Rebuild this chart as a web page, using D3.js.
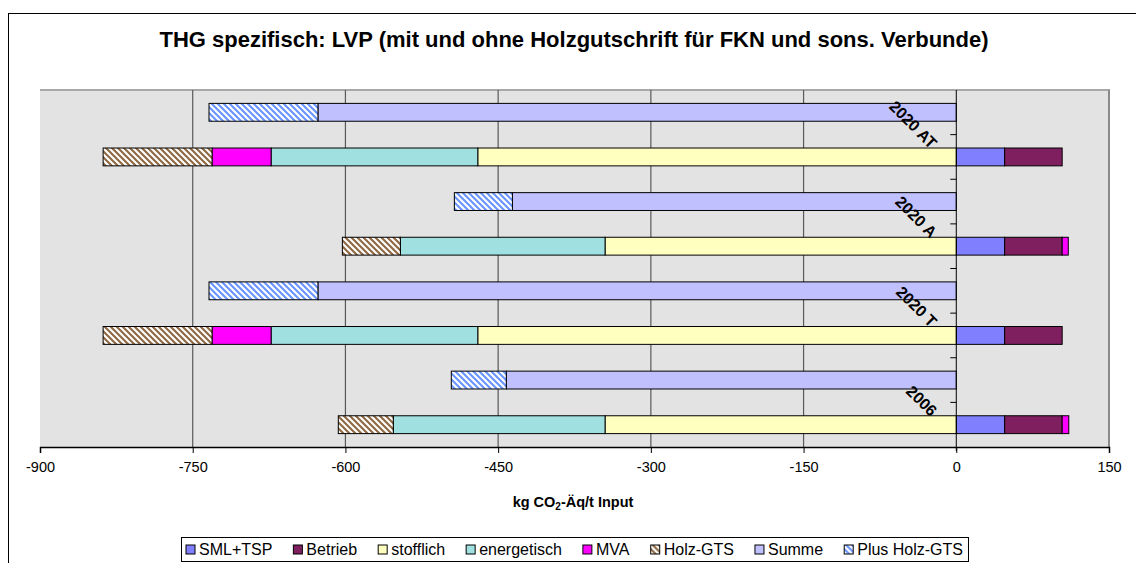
<!DOCTYPE html>
<html>
<head>
<meta charset="utf-8">
<script src="https://cdn.jsdelivr.net/npm/d3@7"></script>
<style>
  body { margin: 0; background: #fff; }
  svg { display: block; font-family: "Liberation Sans", Arial, sans-serif; }
</style>
</head>
<body>
<svg id="chart" width="1136" height="563"></svg>
<script>
// groups bottom -> top, each has a stacked bar and a "Summe" bar
const groups = ["2006", "2020 T", "2020 A", "2020 AT"];
const smlTsp = [47.5, 47.5, 47.5, 47.5];
const betrieb = [56.5, 56.5, 56.5, 56.5];
const stofflich = [-345, -470, -345, -470];
const energetisch = [-208, -203, -201, -203];
const mva = [6.5, -58, 6, -58];
const holzGts = [-54, -107, -57, -107];
const summe = [-442, -627, -436, -627];
const plusHolzGts = [-54, -107, -57, -107];
const xTicks = [-900, -750, -600, -450, -300, -150, 0, 150];

const seriesNames = ["SML+TSP", "Betrieb", "stofflich", "energetisch", "MVA", "Holz-GTS", "Summe", "Plus Holz-GTS"];
const colors = {
  "SML+TSP": "#8080ff",
  "Betrieb": "#7f1f5f",
  "stofflich": "#ffffc0",
  "energetisch": "#a0e0e0",
  "MVA": "#ff00ff",
  "Holz-GTS": "url(#hatchBrown)",
  "Summe": "#c0c0ff",
  "Plus Holz-GTS": "url(#hatchBlue)"
};

// build 8 rows: stacked row + sum row for each group
const rows = [];
groups.forEach((g, i) => {
  rows.push({ id: g + "-s", "SML+TSP": smlTsp[i], "Betrieb": betrieb[i], "stofflich": stofflich[i],
    "energetisch": energetisch[i], "MVA": mva[i], "Holz-GTS": holzGts[i], "Summe": 0, "Plus Holz-GTS": 0 });
  rows.push({ id: g + "-t", "SML+TSP": 0, "Betrieb": 0, "stofflich": 0, "energetisch": 0, "MVA": 0,
    "Holz-GTS": 0, "Summe": summe[i], "Plus Holz-GTS": plusHolzGts[i] });
});

const svg = d3.select("#chart");
const margin = { left: 40, right: 1109, top: 90, bottom: 447 };

// outer chart border
svg.append("rect").attr("x", 8.5).attr("y", 13.5).attr("width", 1200).attr("height", 600)
  .attr("fill", "none").attr("stroke", "#000").attr("stroke-width", 1);

const defs = svg.append("defs");
function hatch(id, color) {
  const p = defs.append("pattern").attr("id", id).attr("patternUnits", "userSpaceOnUse")
    .attr("width", 6).attr("height", 6);
  p.append("rect").attr("width", 6).attr("height", 6).attr("fill", "#fff");
  p.append("path").attr("d", "M-1,-1 L7,7 M-1,5 L1,7 M5,-1 L7,1")
    .attr("stroke", color).attr("stroke-width", 2.2);
}
hatch("hatchBrown", "#8f6a45");
hatch("hatchBlue", "#6b95ff");

const x = d3.scaleLinear().domain([-900, 150]).range([margin.left, margin.right]);
const y = d3.scaleBand().domain(rows.map(d => d.id)).range([margin.bottom, margin.top]);
const barH = y.bandwidth() * 0.4;

// plot area
svg.append("rect").attr("x", margin.left).attr("y", margin.top)
  .attr("width", margin.right - margin.left).attr("height", margin.bottom - margin.top)
  .attr("fill", "#e3e3e3");
svg.append("line").attr("x1", margin.left).attr("x2", margin.right + 1).attr("y1", margin.top).attr("y2", margin.top)
  .attr("stroke", "#a8a8a8").attr("stroke-width", 2);
svg.append("line").attr("x1", margin.right).attr("x2", margin.right).attr("y1", margin.top).attr("y2", margin.bottom)
  .attr("stroke", "#8a8a8a").attr("stroke-width", 2);

// gridlines
svg.append("g").selectAll("line").data(xTicks.filter(t => t > -900 && t < 0)).join("line")
  .attr("x1", d => x(d)).attr("x2", d => x(d)).attr("y1", margin.top).attr("y2", margin.bottom)
  .attr("stroke", "#5a5a5a").attr("stroke-width", 1.2);

// bars
const stack = d3.stack().keys(seriesNames).offset(d3.stackOffsetDiverging);
const stacked = stack(rows);
svg.append("g").selectAll("g").data(stacked).join("g")
  .attr("fill", d => colors[d.key])
  .selectAll("rect").data(d => d.filter(p => p[1] !== p[0])).join("rect")
  .attr("x", d => x(Math.min(d[0], d[1])))
  .attr("width", d => Math.abs(x(d[1]) - x(d[0])))
  .attr("y", d => y(d.data.id) + (y.bandwidth() - barH) / 2)
  .attr("height", barH)
  .attr("stroke", "#000").attr("stroke-width", 1);

// value axis
const xAxis = svg.append("g").attr("transform", `translate(0,${margin.bottom})`)
  .call(d3.axisBottom(x).tickValues(xTicks).tickFormat(d => String(d)).tickSize(6).tickPadding(9));
xAxis.select(".domain").attr("stroke-width", 1.5);
xAxis.selectAll("text").attr("font-size", 14.5).attr("font-family", "Liberation Sans, Arial, sans-serif")
  .attr("fill", "#000");

// category axis at 0
const catTicks = d3.range(1, rows.length + 1).map(i => margin.bottom - i * y.bandwidth());
const cg = svg.append("g");
cg.append("line").attr("x1", x(0)).attr("x2", x(0)).attr("y1", margin.top).attr("y2", margin.bottom + 4)
  .attr("stroke", "#000").attr("stroke-width", 1);
cg.selectAll("line.t").data(catTicks.slice(0, -1)).join("line").attr("class", "t")
  .attr("x1", x(0) - 6).attr("x2", x(0)).attr("y1", d => d).attr("y2", d => d)
  .attr("stroke", "#000");
cg.selectAll("text").data(groups).join("text")
  .attr("transform", (d, i) => `translate(${x(0) - 26},${y(d + "-s") + 15}) rotate(45)`)
  .attr("text-anchor", "end").attr("font-size", 16).attr("font-weight", "bold")
  .text(d => d);

// titles
svg.append("text").attr("x", 574).attr("y", 47).attr("text-anchor", "middle")
  .attr("font-size", 22).attr("font-weight", "bold").text("THG spezifisch: LVP (mit und ohne Holzgutschrift für FKN und sons. Verbunde)");
const at = svg.append("text").attr("x", 573).attr("y", 507).attr("text-anchor", "middle")
  .attr("font-size", 14.5).attr("font-weight", "bold");
at.append("tspan").text("kg CO");
at.append("tspan").attr("font-size", 10).attr("dy", 3).text("2");
at.append("tspan").attr("dy", -3).text("-Äq/t Input");

// legend
const lg = svg.append("g");
const lx0 = 181, lx1 = 968, ly0 = 537, ly1 = 561;
lg.append("rect").attr("x", lx0 + 0.5).attr("y", ly0 + 0.5).attr("width", lx1 - lx0).attr("height", ly1 - ly0)
  .attr("fill", "#fff").attr("stroke", "#000");
const items = lg.selectAll("g").data(seriesNames).join("g");
items.append("rect").attr("width", 9).attr("height", 9).attr("y", -10)
  .attr("fill", d => colors[d]).attr("stroke", "#000").attr("stroke-width", 1);
items.append("text").attr("x", 13).attr("y", 0).attr("font-size", 16).text(d => d);
const widths = items.nodes().map(n => n.getBBox().width);
const total = d3.sum(widths);
const gap = (lx1 - lx0 - 10 - total) / (seriesNames.length - 1);
let cx = lx0 + 5;
items.attr("transform", (d, i) => {
  const t = `translate(${cx},${ly0 + 18})`;
  cx += widths[i] + gap;
  return t;
});
</script>
</body>
</html>
